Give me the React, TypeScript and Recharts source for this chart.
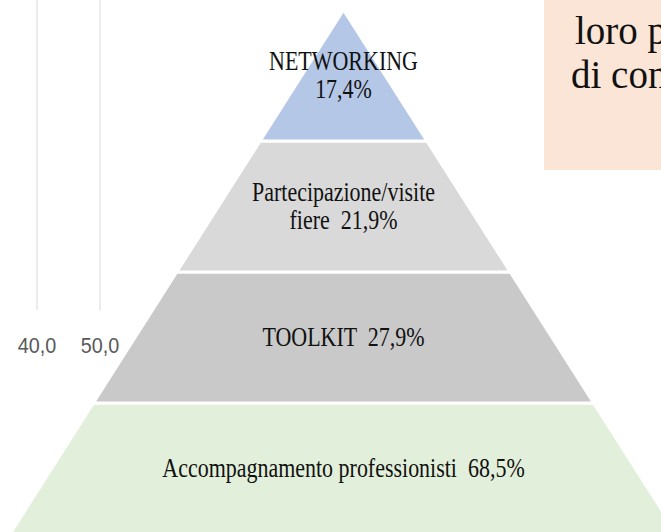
import React from 'react';
import { FunnelChart, Funnel, Trapezoid, BarChart, XAxis, CartesianGrid } from 'recharts';

// Pyramid levels, listed from the base to the apex
const categories = ['Accompagnamento professionisti', 'TOOLKIT', 'Partecipazione/visite fiere', 'NETWORKING'];
const shares = [68.5, 27.9, 21.9, 17.4];
const pyramidLevels = [4, 3, 2, 1];
const levelColors = ['#e2efda', '#c9c9c9', '#d9d9d9', '#b4c7e7'];
const labelLines = [
  ['Accompagnamento professionisti  {p}'],
  ['TOOLKIT  {p}'],
  ['Partecipazione/visite', 'fiere  {p}'],
  ['NETWORKING', '{p}'],
];

// Remnant axis of a chart behind
const axisTicks = [40, 50];
const axisDomain = [40, 50];

// Side note box text
const sideNoteLines = ['loro p', 'di con'];

const fmt = (v: number) => v.toFixed(1).replace('.', ',');

const pyramidData = categories.map((name, i) => ({
  name,
  level: pyramidLevels[i],
  share: shares[i],
  fill: levelColors[i],
  lines: labelLines[i].map((l) => l.replace('{p}', fmt(shares[i]) + '%')),
}));

const axisData = [{ v: 45 }];

const LINE_H = 28;

const PyramidLayer = (props: any) => {
  const { x, y, upperWidth, lowerWidth, height } = props;
  const p = props.payload ?? props;
  const lines: string[] = p.lines || [];
  const cx = x + upperWidth / 2;
  const cy = y + height / 2;
  return (
    <g>
      <Trapezoid
        x={x}
        y={y}
        upperWidth={upperWidth}
        lowerWidth={lowerWidth}
        height={height}
        fill={p.fill}
        stroke="#ffffff"
        strokeWidth={3}
      />
      {lines.map((line, k) => {
        const base = cy + (k - (lines.length - 1) / 2) * LINE_H + 8;
        return (
          <text
            key={k}
            x={0}
            y={0}
            transform={`translate(${cx},${base}) scale(0.785,1)`}
            textAnchor="middle"
            fontFamily="'Liberation Serif', serif"
            fontSize={28}
            fill="#111"
            style={{ whiteSpace: 'pre' }}
          >
            {line}
          </text>
        );
      })}
    </g>
  );
};

const AxisTick = (props: any) => {
  const { x, y, payload } = props;
  return (
    <text
      x={0}
      y={0}
      transform={`translate(${x},${y}) scale(0.9,1)`}
      dy="0.71em"
      textAnchor="middle"
      fill="#595959"
      fontSize={22}
      fontFamily="'Liberation Sans', sans-serif"
    >
      {fmt(payload.value)}
    </text>
  );
};

export default function App() {
  return (
    <div
      style={{
        position: 'fixed',
        left: 0,
        top: 0,
        width: 661,
        height: 532,
        overflow: 'hidden',
        background: '#ffffff',
      }}
    >
      <div style={{ position: 'absolute', left: 0, top: 0 }}>
        <BarChart width={200} height={370} data={axisData} margin={{ top: 0, right: 100, bottom: 0, left: 37 }}>
          <CartesianGrid horizontal={false} stroke="#d9d9d9" />
          <XAxis
            type="number"
            dataKey="v"
            domain={axisDomain}
            ticks={axisTicks}
            interval={0}
            height={60}
            axisLine={false}
            tickLine={false}
            tickMargin={21}
            tick={<AxisTick />}
          />
        </BarChart>
      </div>
      <div style={{ position: 'absolute', left: 10, top: 10 }}>
        <FunnelChart width={667} height={524} margin={{ top: 0, right: 0, bottom: 0, left: 0 }}>
          <Funnel
            data={pyramidData}
            dataKey="level"
            nameKey="name"
            reversed
            lastShapeType="triangle"
            isAnimationActive={false}
            shape={PyramidLayer}
          />
        </FunnelChart>
      </div>
      <div
        style={{
          position: 'absolute',
          left: 544,
          top: 0,
          width: 200,
          height: 170,
          background: '#fbe5d6',
        }}
      >
        <svg width={200} height={170} style={{ display: 'block' }}>
          {sideNoteLines.map((t, i) => (
            <text
              key={i}
              x={i === 0 ? 31 : 27}
              y={44 + i * 44}
              fontFamily="'Liberation Serif', serif"
              fontSize={39}
              fill="#111"
            >
              {t}
            </text>
          ))}
        </svg>
      </div>
    </div>
  );
}
